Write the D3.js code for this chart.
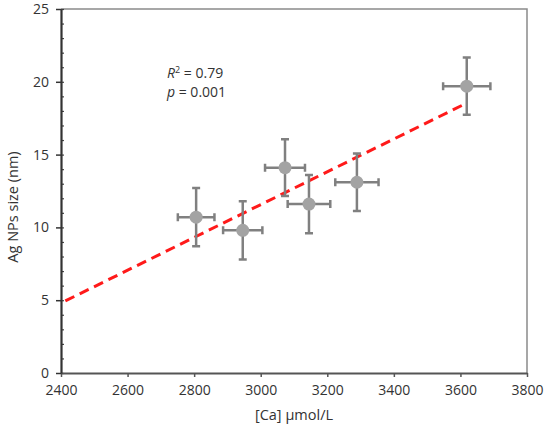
<!DOCTYPE html>
<html>
<head>
<meta charset="utf-8">
<script src="https://cdn.jsdelivr.net/npm/d3@7"></script>
<style>
  body { margin: 0; background: #fff; }
  text { font-family: "Open Sans", sans-serif; fill: #333; }
</style>
</head>
<body>
<div id="chart"></div>
<script>
var svgWidth = 544;
var svgHeight = 436;

var margin = { top: 9, right: 17, bottom: 63, left: 61 };
var width = svgWidth - margin.left - margin.right;
var height = svgHeight - margin.top - margin.bottom;

// data
var caConc = [2806, 2946, 3073, 3145, 3289, 3619];
var caErr = [55, 59, 60, 64, 65, 71];
var npSize = [10.7, 9.8, 14.1, 11.6, 13.1, 19.7];
var sizeErr = [2.0, 2.0, 1.95, 2.0, 1.97, 1.97];
var fitX = [2413, 3619];
var fitY = [4.95, 18.54];
var xTicks = [2400, 2600, 2800, 3000, 3200, 3400, 3600, 3800];
var yTicks = [0, 5, 10, 15, 20, 25];

var points = caConc.map(function(c, i) {
  return { x: c, xe: caErr[i], y: npSize[i], ye: sizeErr[i] };
});

var svg = d3.select("#chart")
  .append("svg")
  .attr("width", svgWidth)
  .attr("height", svgHeight);

var chartGroup = svg.append("g")
  .attr("transform", `translate(${margin.left}, ${margin.top})`);

var xScale = d3.scaleLinear().domain([2400, 3800]).range([0, width]);
var yScale = d3.scaleLinear().domain([0, 25]).range([height, 0]);

// top and right frame
chartGroup.append("path")
  .attr("d", `M0,0H${width}V${height}`)
  .attr("fill", "none")
  .attr("stroke", "#8a8a8a")
  .attr("stroke-width", 1.5);

// minor y ticks (inside)
chartGroup.append("g")
  .call(d3.axisRight(yScale).tickValues(d3.range(0, 26, 1)).tickSize(3).tickFormat(""))
  .call(g => g.select(".domain").remove())
  .selectAll("line").attr("stroke", "#444").attr("stroke-width", 1.2);

// bottom axis
var bottomAxis = chartGroup.append("g")
  .attr("transform", `translate(0, ${height})`)
  .call(d3.axisBottom(xScale).tickValues(xTicks).tickFormat(d3.format("d"))
    .tickSize(4).tickSizeOuter(0).tickPadding(8));
bottomAxis.select(".domain").attr("stroke", "#555").attr("stroke-width", 2);
bottomAxis.selectAll("line").attr("stroke", "#555").attr("stroke-width", 1.5);
bottomAxis.selectAll("text").style("font-size", "14px").attr("fill", "#333");

// left axis
var leftAxis = chartGroup.append("g")
  .call(d3.axisLeft(yScale).tickValues(yTicks).tickSize(5).tickSizeOuter(0).tickPadding(7));
leftAxis.select(".domain").attr("stroke", "#333").attr("stroke-width", 2.2);
leftAxis.selectAll("line").attr("stroke", "#333").attr("stroke-width", 1.5);
leftAxis.selectAll("text").style("font-size", "14px").attr("fill", "#333");

// trend line
chartGroup.append("line")
  .attr("x1", xScale(fitX[0]))
  .attr("y1", yScale(fitY[0]))
  .attr("x2", xScale(fitX[1]))
  .attr("y2", yScale(fitY[1]))
  .attr("stroke", "#ff1a1a")
  .attr("stroke-width", 3)
  .attr("stroke-dasharray", "10,6");

// error bars
var errGroup = chartGroup.append("g")
  .attr("stroke", "#808080")
  .attr("stroke-width", 2.5)
  .attr("fill", "none");

var cap = 4;
errGroup.selectAll("path.err")
  .data(points)
  .enter()
  .append("path")
  .attr("class", "err")
  .attr("d", function(d) {
    var cx = xScale(d.x), cy = yScale(d.y);
    var x0 = xScale(d.x - d.xe), x1 = xScale(d.x + d.xe);
    var y0 = yScale(d.y - d.ye), y1 = yScale(d.y + d.ye);
    return `M${x0},${cy}H${x1}M${cx},${y0}V${y1}` +
      `M${x0},${cy - cap}V${cy + cap}M${x1},${cy - cap}V${cy + cap}` +
      `M${cx - cap},${y0}H${cx + cap}M${cx - cap},${y1}H${cx + cap}`;
  });

chartGroup.selectAll("circle")
  .data(points)
  .enter()
  .append("circle")
  .attr("cx", d => xScale(d.x))
  .attr("cy", d => yScale(d.y))
  .attr("r", 6.5)
  .attr("fill", "#a3a3a3");

// stats annotation
var stats = chartGroup.append("g").style("font-size", "14px");
var r2 = stats.append("text").attr("x", 106).attr("y", 69);
r2.append("tspan").style("font-style", "italic").text("R");
r2.append("tspan").attr("dy", -5).style("font-size", "9px").text("2");
r2.append("tspan").attr("dy", 5).text(" = 0.79");
var pv = stats.append("text").attr("x", 106).attr("y", 88);
pv.append("tspan").style("font-style", "italic").text("p");
pv.append("tspan").text(" = 0.001");

// axis labels
chartGroup.append("text")
  .attr("transform", "rotate(-90)")
  .attr("x", -198)
  .attr("y", -margin.left + 18)
  .attr("text-anchor", "middle")
  .style("font-size", "14.5px")
  .text("Ag NPs size (nm)");

chartGroup.append("text")
  .attr("x", 233)
  .attr("y", height + 47)
  .attr("text-anchor", "middle")
  .style("font-size", "14.5px")
  .text("[Ca] µmol/L");
</script>
</body>
</html>
